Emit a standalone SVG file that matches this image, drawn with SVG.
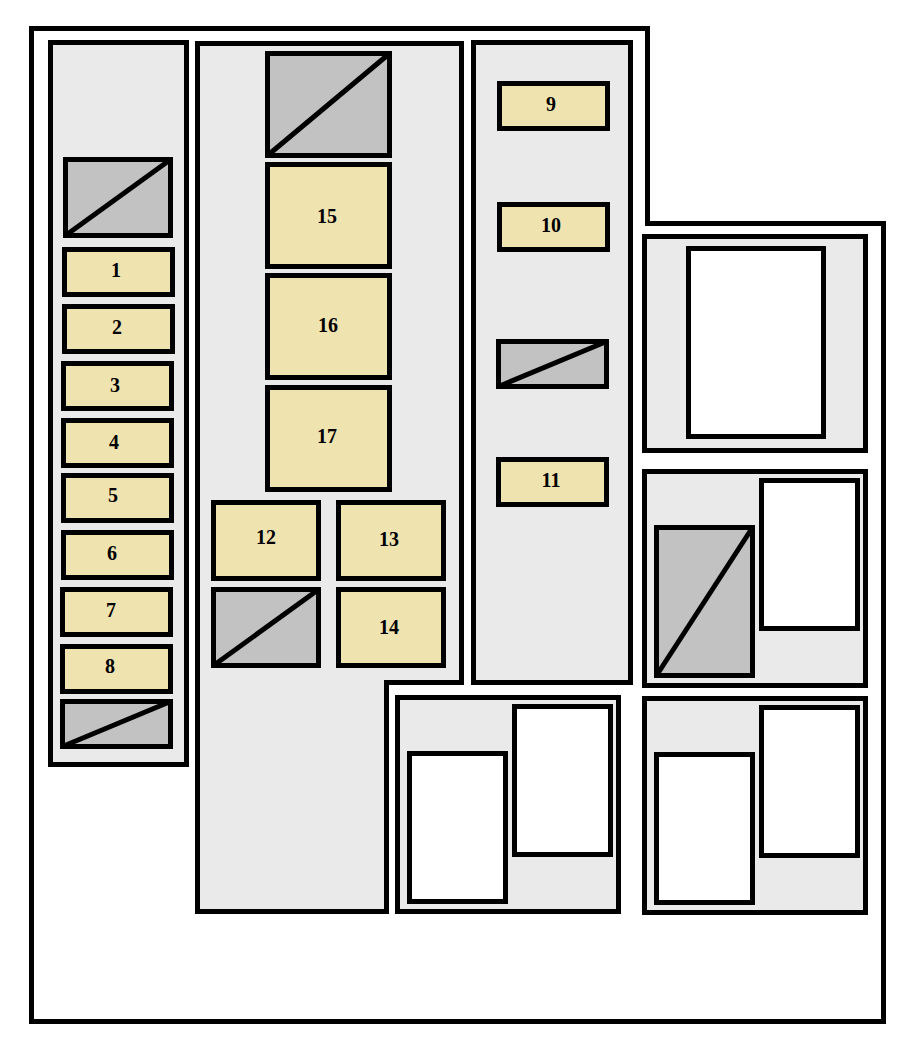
<svg xmlns="http://www.w3.org/2000/svg" width="910" height="1048" viewBox="0 0 910 1048">
<style>
.o{stroke:#000;stroke-width:5;fill:none}
.p{stroke:#000;stroke-width:5;fill:#eaeaea}
.f{stroke:#000;stroke-width:5;fill:#efe4b0}
.g{stroke:#000;stroke-width:5;fill:#c2c2c2}
.w{stroke:#000;stroke-width:5;fill:#fff}
.d{stroke:#000;stroke-width:5;fill:none}
text{font-family:"Liberation Serif","Times New Roman",serif;font-weight:bold;font-size:20px;text-anchor:middle;fill:#000}
</style>
<rect width="910" height="1048" fill="#fff"/>
<g id="housing"><path class="o" d="M31.500 28.500H647.500V223.500H883.500V1021.500H31.500Z"/></g>
<g id="panel-left"><rect class="p" x="50.500" y="42.500" width="136" height="722"/></g>
<g id="panel-middle"><path class="p" d="M197.500 43.500H461.500V682.500H386.500V911.500H197.500Z"/></g>
<g id="panel-right"><rect class="p" x="473.500" y="42.500" width="157" height="640"/></g>
<g id="panel-r1"><rect class="p" x="644.500" y="236.500" width="221" height="214"/><rect class="w" x="688.500" y="248.500" width="135" height="188"/></g>
<g id="panel-r2"><rect class="p" x="644.500" y="471.500" width="221" height="214"/><rect class="w" x="761.500" y="480.500" width="96" height="148"/><rect class="g" x="656.500" y="527.500" width="96" height="148"/><path class="d" d="M656.500 675.500L752.500 527.500"/></g>
<g id="panel-r3"><rect class="p" x="644.500" y="698.500" width="221" height="214"/><rect class="w" x="761.500" y="707.500" width="96" height="148"/><rect class="w" x="656.500" y="754.500" width="96" height="148"/></g>
<g id="panel-b"><rect class="p" x="397.500" y="697.500" width="221" height="214"/><rect class="w" x="514.500" y="706.500" width="96" height="148"/><rect class="w" x="409.500" y="753.500" width="96" height="148"/></g>
<g id="blank-a"><rect class="g" x="65.500" y="159.500" width="105" height="76"/><path class="d" d="M65.500 235.500L170.500 159.500"/></g>
<g id="blank-b"><rect class="g" x="62.500" y="701.500" width="108" height="45"/><path class="d" d="M62.500 746.500L170.500 701.500"/></g>
<g id="blank-c"><rect class="g" x="267.500" y="53.500" width="122" height="102"/><path class="d" d="M267.500 155.500L389.500 53.500"/></g>
<g id="blank-d"><rect class="g" x="213.500" y="589.500" width="105" height="76"/><path class="d" d="M213.500 665.500L318.500 589.500"/></g>
<g id="blank-e"><rect class="g" x="498.500" y="341.500" width="108" height="45"/><path class="d" d="M498.500 386.500L606.500 341.500"/></g>
<g id="fuse-1"><rect class="f" x="64.500" y="249.500" width="108" height="45"/><text x="116" y="277">1</text></g>
<g id="fuse-2"><rect class="f" x="64.500" y="306.500" width="108" height="45"/><text x="117" y="334">2</text></g>
<g id="fuse-3"><rect class="f" x="63.500" y="363.500" width="108" height="45"/><text x="115" y="392">3</text></g>
<g id="fuse-4"><rect class="f" x="63.500" y="420.500" width="108" height="45"/><text x="114" y="449">4</text></g>
<g id="fuse-5"><rect class="f" x="63.500" y="475.500" width="108" height="45"/><text x="113" y="502">5</text></g>
<g id="fuse-6"><rect class="f" x="63.500" y="532.500" width="108" height="45"/><text x="112" y="560">6</text></g>
<g id="fuse-7"><rect class="f" x="62.500" y="589.500" width="108" height="45"/><text x="111" y="617">7</text></g>
<g id="fuse-8"><rect class="f" x="62.500" y="646.500" width="108" height="45"/><text x="110" y="673">8</text></g>
<g id="fuse-9"><rect class="f" x="499.500" y="83.500" width="108" height="45"/><text x="551" y="111">9</text></g>
<g id="fuse-10"><rect class="f" x="499.500" y="204.500" width="108" height="45"/><text x="551" y="232">10</text></g>
<g id="fuse-11"><rect class="f" x="498.500" y="459.500" width="108" height="45"/><text x="551" y="487">11</text></g>
<g id="fuse-12"><rect class="f" x="213.500" y="502.500" width="105" height="76"/><text x="266" y="544">12</text></g>
<g id="fuse-13"><rect class="f" x="338.500" y="502.500" width="105" height="76"/><text x="389" y="546">13</text></g>
<g id="fuse-14"><rect class="f" x="338.500" y="589.500" width="105" height="76"/><text x="389" y="634">14</text></g>
<g id="fuse-15"><rect class="f" x="267.500" y="164.500" width="122" height="102"/><text x="327" y="223">15</text></g>
<g id="fuse-16"><rect class="f" x="267.500" y="275.500" width="122" height="102"/><text x="328" y="332">16</text></g>
<g id="fuse-17"><rect class="f" x="267.500" y="387.500" width="122" height="102"/><text x="327" y="443">17</text></g>
<g id="connectors"></g>
</svg>
